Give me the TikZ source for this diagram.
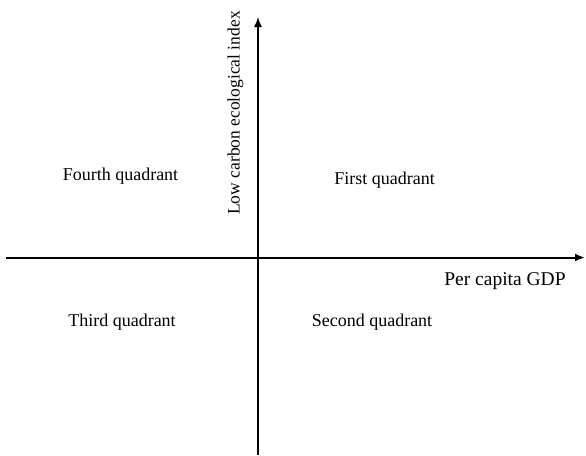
\documentclass[tikz,border=0pt]{standalone}
\usepackage{fontspec}
\setmainfont{Liberation Serif}
\usetikzlibrary{arrows.meta}
\begin{document}
\begin{tikzpicture}[x=1pt,y=-1pt,
  axis/.style={draw=black,-{Latex[length=10pt,width=8pt]}},
  lbl/.style={inner sep=0pt,font=\fontsize{18}{20}\selectfont},
  axlbl/.style={inner sep=0pt,font=\fontsize{17.5}{20}\selectfont}]
  \useasboundingbox (0,0) rectangle (586,455);
  % axis end points
  \coordinate (xs) at (6,257.5);
  \coordinate (xe) at (585,257.5);
  \coordinate (ys) at (258,455);
  \coordinate (ye) at (258,17);
  % axes
  \draw[axis,line width=2pt] (xs) -- (xe);
  \draw[axis,line width=1.4pt] (ys) -- (ye);
  % axis titles
  \node[axlbl,rotate=90] (ylab) at (235.5,113) {Low carbon ecological index};
  \node[lbl,font=\fontsize{19.5}{22}\selectfont] (xlab) at (505,281) {Per capita GDP};
  % quadrant names
  \node[lbl] (q4) at (120.5,176) {Fourth quadrant};
  \node[lbl] (q1) at (384.5,180) {First quadrant};
  \node[lbl] (q3) at (122,322) {Third quadrant};
  \node[lbl] (q2) at (372,322) {Second quadrant};
\end{tikzpicture}
\end{document}
